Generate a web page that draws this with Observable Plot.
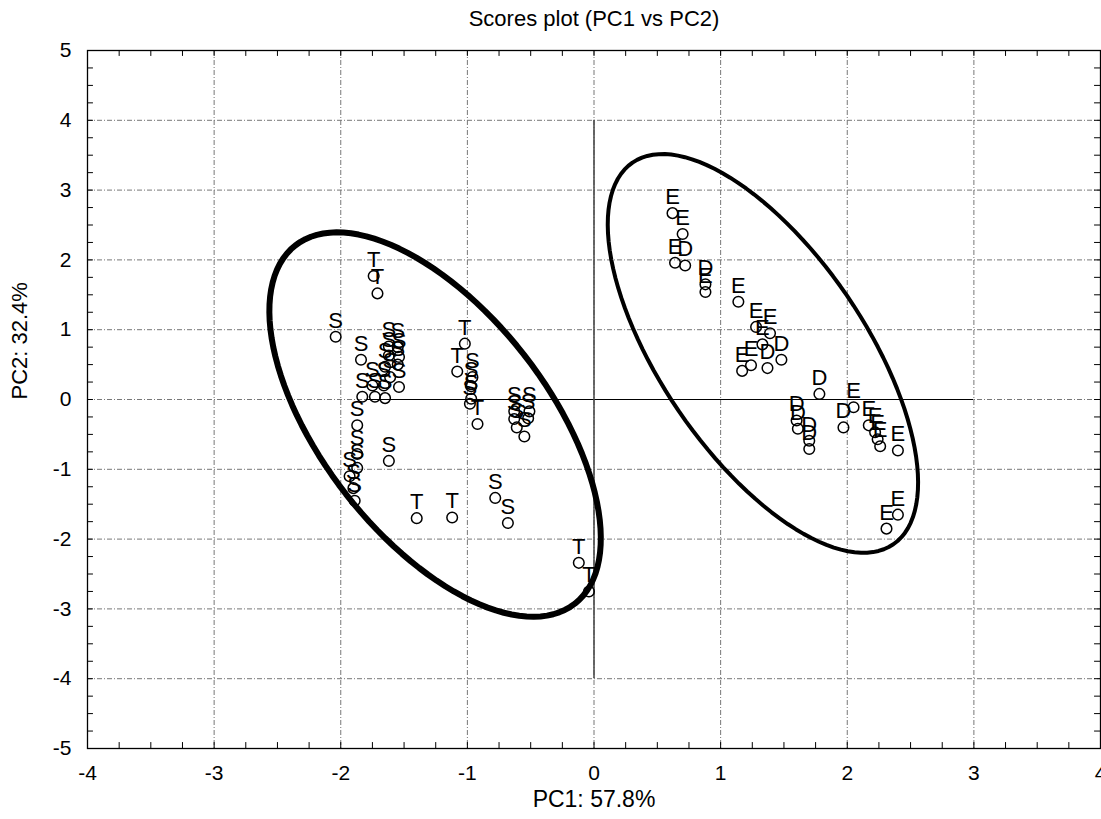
<!DOCTYPE html>
<html>
<head>
<meta charset="utf-8">
<script src="https://cdn.jsdelivr.net/npm/d3@7"></script>
<script src="https://cdn.jsdelivr.net/npm/@observablehq/plot@0.6"></script>
<style>
  body { margin: 0; background: #fff; }
  #chart svg { display: block; }
</style>
</head>
<body>
<div id="chart"></div>
<script>
// ---- data ----
const groups = [
  "T","T","S","S","S","S","S","S","S","S","S","S","S","S","S","S","S","S","S","S","S","S","S","S",
  "T","T","T","T","S","S","S","S","T","S","S","S","S","S","S","S","S","T","T",
  "E","E","E","D","D","E","E","E","E","E","D","D","E","E","D","D","D","D","D","D","E","E","E","E","E","E","E","E"
];
const pc1 = [
  -1.74,-1.71,-2.04,-1.84,-1.62,-1.55,-1.62,-1.54,-1.65,-1.55,-1.61,-1.54,-1.83,-1.73,-1.65,-1.75,-1.66,-1.87,-1.62,-1.87,-1.87,-1.93,-1.90,-1.89,
  -1.40,-1.12,-1.02,-1.08,-0.96,-0.97,-0.97,-0.98,-0.92,-0.63,-0.51,-0.63,-0.52,-0.61,-0.55,-0.78,-0.68,-0.12,-0.04,
  0.62,0.70,0.64,0.72,0.88,0.88,1.14,1.28,1.39,1.33,1.48,1.37,1.24,1.17,1.78,1.60,1.61,1.70,1.70,1.97,2.05,2.17,2.22,2.24,2.26,2.40,2.40,2.31
];
const pc2 = [
  1.77,1.52,0.90,0.57,0.76,0.75,0.63,0.61,0.47,0.50,0.32,0.18,0.04,0.04,0.02,0.20,0.20,-0.37,-0.88,-0.78,-0.98,-1.10,-1.27,-1.45,
  -1.70,-1.69,0.80,0.40,0.32,0.19,0.01,-0.06,-0.35,-0.17,-0.17,-0.28,-0.27,-0.40,-0.53,-1.41,-1.77,-2.34,-2.75,
  2.67,2.37,1.96,1.92,1.65,1.54,1.40,1.04,0.95,0.79,0.57,0.45,0.49,0.41,0.08,-0.30,-0.42,-0.59,-0.71,-0.40,-0.11,-0.37,-0.47,-0.57,-0.67,-0.73,-1.65,-1.85
];
const xTicks = [-4,-3,-2,-1,0,1,2,3,4];
const yTicks = [-5,-4,-3,-2,-1,0,1,2,3,4,5];
// confidence ellipses: centre, semi-major vector, semi-minor vector (data units)
const ellipseCx = [-1.255, 1.334];
const ellipseCy = [-0.359, 0.66];
const ellipseU = [[1.104, -2.566], [1.030, -2.734]];
const ellipseV = [[-0.703, -0.999], [-0.664, -0.827]];
const ellipseWidth = [6, 4];

const title = "Scores plot (PC1 vs PC2)";
const xLabel = "PC1: 57.8%";
const yLabel = "PC2: 32.4%";

// ---- build tables ----
const points = groups.map((g, i) => ({g, x: pc1[i], y: pc2[i]}));
const ellipses = ellipseCx.map((cx, k) => d3.range(0, 361, 3).map(a => {
  const t = a * Math.PI / 180;
  return {k, x: cx + ellipseU[k][0]*Math.cos(t) + ellipseV[k][0]*Math.sin(t),
             y: ellipseCy[k] + ellipseU[k][1]*Math.cos(t) + ellipseV[k][1]*Math.sin(t)};
}));
const minorX = d3.range(-16, 17).map(i => i / 4);
const minorY = d3.range(-20, 21).map(i => i / 4);
const gridX = xTicks.filter(v => v > -4 && v < 4);
const gridY = yTicks.filter(v => v > -5 && v < 5);
const tx = 0.085, ty = 0.047;

const font = "'Liberation Sans', Arial, sans-serif";
const dash = "5,2,1,2";

const chart = Plot.plot({
  width: 1101,
  height: 819,
  marginTop: 50,
  marginBottom: 71,
  marginLeft: 87,
  marginRight: 1,
  style: {fontFamily: font, background: "#fff"},
  x: {domain: [-4, 4]},
  y: {domain: [-5, 5]},
  marks: [
    Plot.ruleX(gridX, {x: d => d, stroke: "#777", strokeWidth: 1, strokeDasharray: dash}),
    Plot.ruleY(gridY, {y: d => d, stroke: "#777", strokeWidth: 1, strokeDasharray: dash}),
    Plot.ruleY([0], {y: d => d, x1: -1.8, x2: 3, stroke: "#000", strokeWidth: 1.2}),
    Plot.ruleX([0], {x: d => d, y1: -4, y2: 4, stroke: "#444", strokeWidth: 1.5}),
    // inward minor ticks on all four sides
    Plot.ruleX(minorX, {x: d => d, y1: -5, y2: -5 + tx, stroke: "#000"}),
    Plot.ruleX(minorX, {x: d => d, y1: 5, y2: 5 - tx, stroke: "#000"}),
    Plot.ruleY(minorY, {y: d => d, x1: -4, x2: -4 + ty, stroke: "#000"}),
    Plot.ruleY(minorY, {y: d => d, x1: 4, x2: 4 - ty, stroke: "#000"}),
    ...ellipses.map((e, k) => Plot.line(e, {x: "x", y: "y", curve: "linear-closed", stroke: "#000", strokeWidth: ellipseWidth[k]})),
    Plot.dot(points, {x: "x", y: "y", r: 5.3, stroke: "#000", strokeWidth: 1.5, fill: "none"}),
    Plot.text(points, {x: "x", y: "y", text: "g", lineAnchor: "bottom", dy: -9, fontSize: 22, fill: "#000"}),
    Plot.frame({stroke: "#000", strokeWidth: 1.3}),
    Plot.axisX({ticks: xTicks, tickSize: 0, tickPadding: 17, fontSize: 21, label: null, tickFormat: d => String(d)}),
    Plot.axisY({ticks: yTicks, tickSize: 0, tickPadding: 16, fontSize: 21, label: null, tickFormat: d => String(d)}),
    Plot.text([title], {text: d => d, frameAnchor: "top", dy: -40, fontSize: 22, fill: "#000"}),
    Plot.text([xLabel], {text: d => d, frameAnchor: "bottom", dy: 58, fontSize: 23, fill: "#000"}),
    Plot.text([yLabel], {text: d => d, frameAnchor: "left", dx: -68, rotate: -90, fontSize: 22, fill: "#000"})
  ]
});
document.getElementById("chart").append(chart);
</script>
</body>
</html>
